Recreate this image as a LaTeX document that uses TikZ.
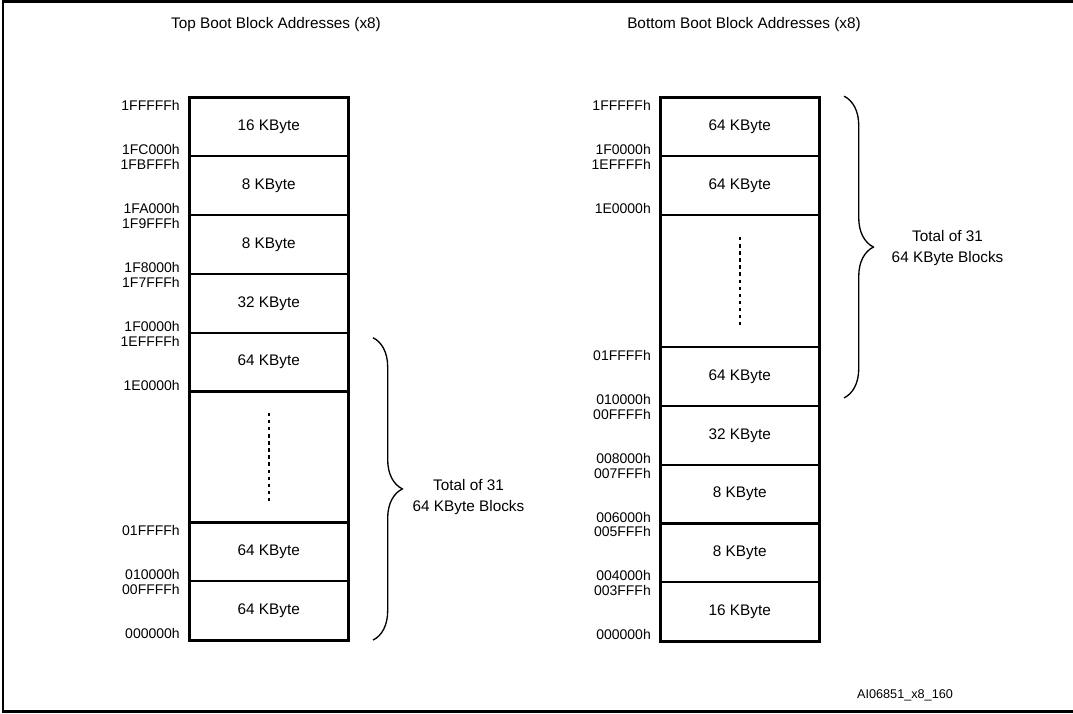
\documentclass[tikz,border=0pt]{standalone}
\usepackage{fontspec}
\setmainfont{Liberation Sans}
\usetikzlibrary{positioning,decorations.pathreplacing}

\begin{document}
\begin{tikzpicture}[x=0.75pt,y=-0.75pt,
    blocknode/.style={rectangle, draw, line width=1.6pt, minimum width=119.6pt, minimum height=44.1pt, inner sep=0pt, outer sep=0pt, font=\fontsize{11.5}{14}\selectfont},
    gapnode/.style={blocknode, minimum height=98.25pt},
    hiaddr/.style={anchor=base east, inner sep=0pt, font=\fontsize{10.5}{12}\selectfont, xshift=-6.75pt, yshift=-10pt},
    loaddr/.style={anchor=base east, inner sep=0pt, font=\fontsize{10.5}{12}\selectfont, xshift=-6.75pt, yshift=1pt},
    outerbox/.style={draw, line width=2.25pt},
    gapdash/.style={line width=1.5pt, dash pattern=on 2.5pt off 2.8pt},
    bracepath/.style={decorate, decoration={brace, amplitude=22pt}, line width=1pt},
    totalnode/.style={anchor=west, align=center, inner sep=0pt, font=\fontsize{11.5}{15.75}\selectfont},
    titlenode/.style={inner sep=0pt, font=\fontsize{11.5}{14}\selectfont}]
    \useasboundingbox (0,0) rectangle (1073,713);
    %Frame
    \draw[line width=1.9pt] (1075,1.7) -- (3,1.7) -- (3,711.3) -- (1075,711.3);

    %Titles
    \node[titlenode](lefttitle) at (276,25){Top Boot Block Addresses (x8)};
    \node[titlenode](righttitle) at (744,25){Bottom Boot Block Addresses (x8)};
    \node[titlenode, font=\fontsize{9.5}{12}\selectfont](figid) at (905,695){AI06851\_x8\_160};

    %Left blocks
    \node[blocknode](leftblock_1) at (268.75,126.9){16 KByte};
    \node[blocknode](leftblock_2)[below=0pt of leftblock_1]{8 KByte};
    \node[blocknode](leftblock_3)[below=0pt of leftblock_2]{8 KByte};
    \node[blocknode](leftblock_4)[below=0pt of leftblock_3]{32 KByte};
    \node[blocknode](leftblock_5)[below=0pt of leftblock_4]{64 KByte};
    \node[gapnode](leftblock_6)[below=0pt of leftblock_5]{};
    \node[blocknode](leftblock_7)[below=0pt of leftblock_6]{64 KByte};
    \node[blocknode](leftblock_8)[below=0pt of leftblock_7]{64 KByte};
    \draw[outerbox](leftblock_1.north west) rectangle (leftblock_8.south east);

    %Right blocks
    \node[blocknode](rightblock_1) at (739.8,126.9){64 KByte};
    \node[blocknode](rightblock_2)[below=0pt of rightblock_1]{64 KByte};
    \node[gapnode, minimum height=99pt](rightblock_3)[below=0pt of rightblock_2]{};
    \node[blocknode](rightblock_4)[below=0pt of rightblock_3]{64 KByte};
    \node[blocknode](rightblock_5)[below=0pt of rightblock_4]{32 KByte};
    \node[blocknode](rightblock_6)[below=0pt of rightblock_5]{8 KByte};
    \node[blocknode](rightblock_7)[below=0pt of rightblock_6]{8 KByte};
    \node[blocknode](rightblock_8)[below=0pt of rightblock_7]{16 KByte};
    \draw[outerbox](rightblock_1.north west) rectangle (rightblock_8.south east);

    %Left addresses
    \node[hiaddr](lefthi_1) at (leftblock_1.north west){1FFFFFh};
    \node[loaddr](leftlo_1) at (leftblock_1.south west){1FC000h};
    \node[hiaddr](lefthi_2) at (leftblock_2.north west){1FBFFFh};
    \node[loaddr](leftlo_2) at (leftblock_2.south west){1FA000h};
    \node[hiaddr](lefthi_3) at (leftblock_3.north west){1F9FFFh};
    \node[loaddr](leftlo_3) at (leftblock_3.south west){1F8000h};
    \node[hiaddr](lefthi_4) at (leftblock_4.north west){1F7FFFh};
    \node[loaddr](leftlo_4) at (leftblock_4.south west){1F0000h};
    \node[hiaddr](lefthi_5) at (leftblock_5.north west){1EFFFFh};
    \node[loaddr](leftlo_5) at (leftblock_5.south west){1E0000h};
    \node[hiaddr](lefthi_7) at (leftblock_7.north west){01FFFFh};
    \node[loaddr](leftlo_7) at (leftblock_7.south west){010000h};
    \node[hiaddr](lefthi_8) at (leftblock_8.north west){00FFFFh};
    \node[loaddr](leftlo_8) at (leftblock_8.south west){000000h};

    %Right addresses
    \node[hiaddr](righthi_1) at (rightblock_1.north west){1FFFFFh};
    \node[loaddr](rightlo_1) at (rightblock_1.south west){1F0000h};
    \node[hiaddr](righthi_2) at (rightblock_2.north west){1EFFFFh};
    \node[loaddr](rightlo_2) at (rightblock_2.south west){1E0000h};
    \node[hiaddr](righthi_4) at (rightblock_4.north west){01FFFFh};
    \node[loaddr](rightlo_4) at (rightblock_4.south west){010000h};
    \node[hiaddr](righthi_5) at (rightblock_5.north west){00FFFFh};
    \node[loaddr](rightlo_5) at (rightblock_5.south west){008000h};
    \node[hiaddr](righthi_6) at (rightblock_6.north west){007FFFh};
    \node[loaddr](rightlo_6) at (rightblock_6.south west){006000h};
    \node[hiaddr](righthi_7) at (rightblock_7.north west){005FFFh};
    \node[loaddr](rightlo_7) at (rightblock_7.south west){004000h};
    \node[hiaddr](righthi_8) at (rightblock_8.north west){003FFFh};
    \node[loaddr](rightlo_8) at (rightblock_8.south west){000000h};

    %Dashes
    \draw[gapdash]([yshift=33pt]leftblock_6.center)--([yshift=-33pt]leftblock_6.center);
    \draw[gapdash]([yshift=33pt]rightblock_3.center)--([yshift=-33pt]rightblock_3.center);

    %Braces
    \draw[bracepath]([xshift=18.4pt,yshift=-3.75pt]leftblock_5.north east)--node[totalnode, xshift=29.25pt, yshift=-6.4pt](lefttotal){Total of 31\\64 KByte Blocks}([xshift=18.4pt]leftblock_8.south east);
    \draw[bracepath]([xshift=18.4pt,yshift=1pt]rightblock_1.north east)--node[totalnode, xshift=35.25pt, yshift=-0.75pt](righttotal){Total of 31\\64 KByte Blocks}([xshift=18.4pt,yshift=6pt]rightblock_4.south east);
\end{tikzpicture}
\end{document}
